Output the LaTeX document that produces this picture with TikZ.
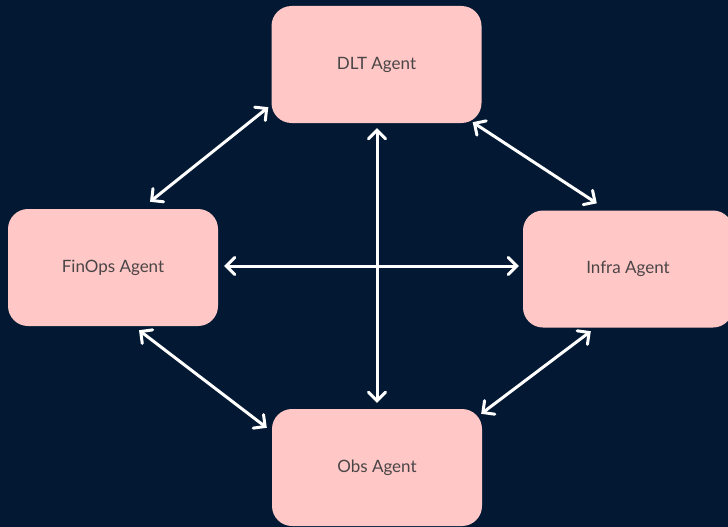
\documentclass[tikz,border=0pt]{standalone}
\usepackage{fontspec}
\setmainfont{Lato}
\usetikzlibrary{arrows.meta}
\definecolor{bgnavy}{HTML}{031933}
\definecolor{boxpink}{HTML}{FFC7C5}
\definecolor{txtgray}{HTML}{4A4547}
\begin{document}
\begin{tikzpicture}[x=1pt,y=-1pt,
  agent/.style={fill=boxpink, rounded corners=20pt, minimum width=210pt, minimum height=117pt,
    inner sep=0pt, text=txtgray, font=\fontsize{17}{20}\selectfont},
  link/.style={draw=white, line width=3pt, line cap=round,
    {Straight Barb[length=8.5pt,width=17pt,line width=3pt,line cap=round]}-{Straight Barb[length=8.5pt,width=17pt,line width=3pt,line cap=round]}}]
\fill[bgnavy] (0,0) rectangle (728,527);
\useasboundingbox (0,0) rectangle (728,527);
\node[agent] (dlt) at (376.5,64.5) {DLT Agent};
\node[agent] (fin) at (113,267.5) {FinOps Agent};
\node[agent] (infra) at (628,269) {Infra Agent};
\node[agent] (obs) at (377,467.5) {Obs Agent};
% connectors
\draw[link] ([shift={(37,-7)}]fin.north) -- ([shift={(-3,-16)}]dlt.south west);
\draw[link] ([shift={(-9,-1)}]dlt.south east) -- ([shift={(74,-7)}]infra.north west);
\draw[link] ([shift={(0.5,5)}]dlt.south) -- ([shift={(0,-6)}]obs.north);
\draw[link] ([shift={(6,-1.5)}]fin.east) -- ([shift={(-4,-3)}]infra.west);
\draw[link] ([shift={(26,4)}]fin.south) -- ([shift={(-5,19)}]obs.north west);
\draw[link] ([shift={(68,3.5)}]infra.south west) -- ([shift={(-1,5)}]obs.north east);
\end{tikzpicture}
\end{document}
